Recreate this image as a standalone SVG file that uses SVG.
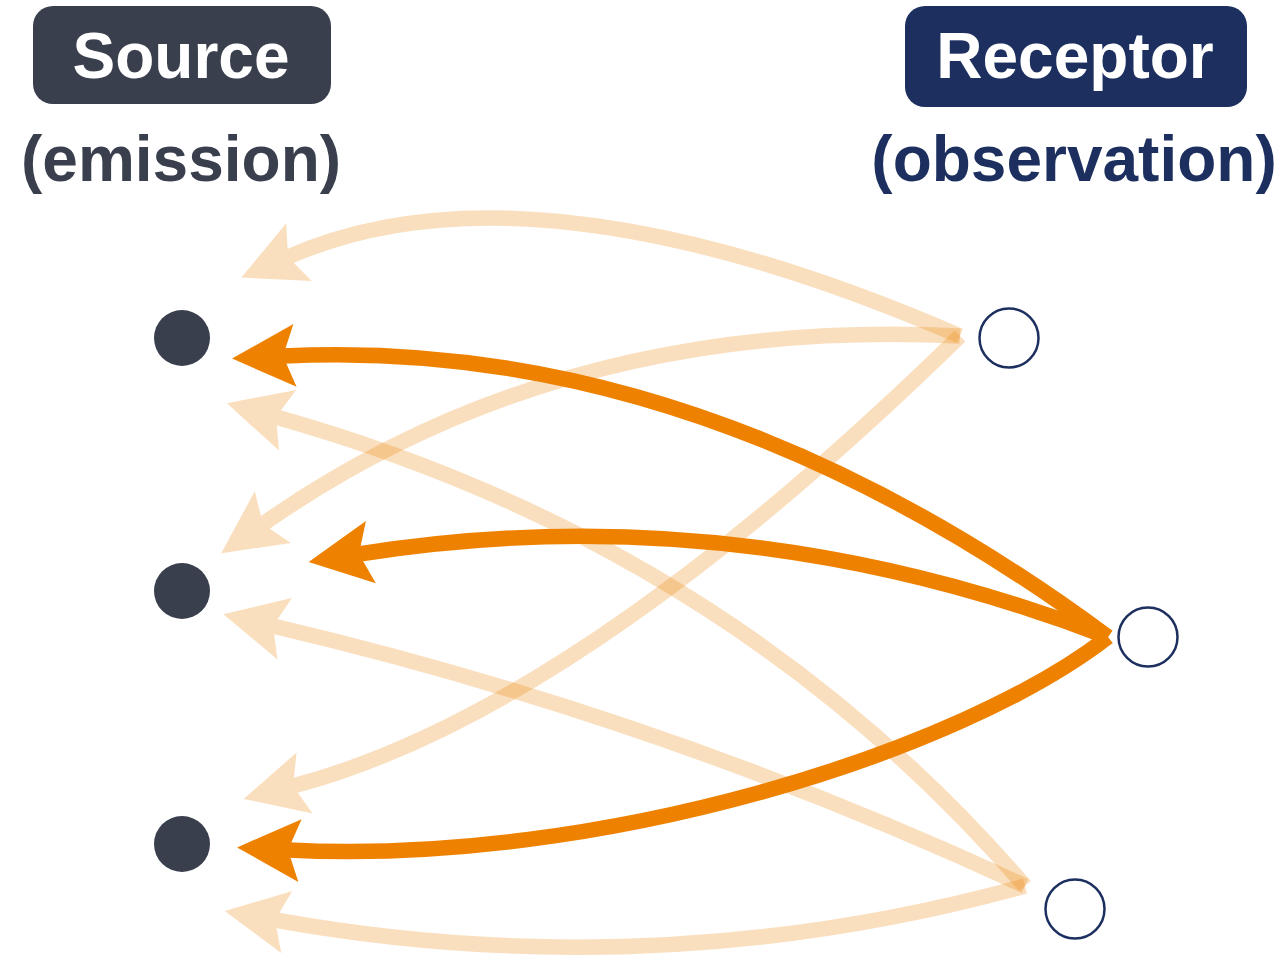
<svg xmlns="http://www.w3.org/2000/svg" width="1285" height="966" viewBox="0 0 1285 966">
  <style>
    .label { font-family: "Liberation Sans", Arial, Helvetica, sans-serif; font-weight: bold; font-size: 64px; text-anchor: middle; }
    .on-box { fill: #ffffff; }
    .src-text { fill: #3a3f4e; }
    .rec-text { fill: #1c2f5f; }
    .src-box { fill: #3a3f4e; }
    .rec-box { fill: #1c2f5f; }
    .source { fill: #3a3f4e; }
    .receptor { fill: #ffffff; stroke: #1c2f5f; stroke-width: 2.5; }
    .link { fill: none; stroke: #ee8200; stroke-width: 15.5; stroke-linecap: butt; marker-end: url(#head); }
    .faint { opacity: 0.25; }
  </style>
  <defs>
    <!-- stealth arrowhead; origin sits on the notch where the shaft ends -->
    <marker id="head" markerUnits="userSpaceOnUse" markerWidth="80" markerHeight="80" refX="0" refY="0" orient="auto" style="overflow:visible">
      <path d="M51,0 L-12,-31.5 L0,0 L-12,31.5 Z" fill="#ee8200"/>
    </marker>
  </defs>

  <!-- connectors: receptor to source -->
  <g id="connectors">
    <g class="faint"><path class="link" d="M960,336 Q530,150 288,257"/></g>
    <g class="faint"><path class="link" d="M960,336 Q560,316 263,524"/></g>
    <g class="faint"><path class="link" d="M960,336 Q575,712 293,786"/></g>
    <g class="faint"><path class="link" d="M1025,886 Q730,545 276,417"/></g>
    <g class="faint"><path class="link" d="M1025,886 Q661,717 273,626"/></g>
    <g class="faint"><path class="link" d="M1025,886 Q654,988 275,920"/></g>
    <path class="link" d="M1108,637 Q700,335 283,356"/>
    <path class="link" d="M1108,637 Q737,494 359,554"/>
    <path class="link" d="M1108,637 C960,752 600,866 288,850"/>
  </g>

  <!-- column headers -->
  <g id="source-header">
    <rect class="src-box" x="33" y="6" width="298" height="98" rx="20" ry="20"/>
    <text class="label on-box" x="181" y="78">Source</text>
    <text class="label src-text" x="181" y="181">(emission)</text>
  </g>
  <g id="receptor-header">
    <rect class="rec-box" x="905" y="6" width="342" height="101" rx="20" ry="20"/>
    <text class="label on-box" x="1075" y="78">Receptor</text>
    <text class="label rec-text" x="1074" y="181">(observation)</text>
  </g>

  <!-- source nodes -->
  <g id="source-1"><circle class="source" cx="182" cy="338" r="28"/></g>
  <g id="source-2"><circle class="source" cx="182" cy="591" r="28"/></g>
  <g id="source-3"><circle class="source" cx="182" cy="844" r="28"/></g>

  <!-- receptor nodes -->
  <g id="receptor-1"><circle class="receptor" cx="1009" cy="338" r="29.5"/></g>
  <g id="receptor-2"><circle class="receptor" cx="1148" cy="637" r="29.5"/></g>
  <g id="receptor-3"><circle class="receptor" cx="1075" cy="909" r="29.5"/></g>
</svg>
